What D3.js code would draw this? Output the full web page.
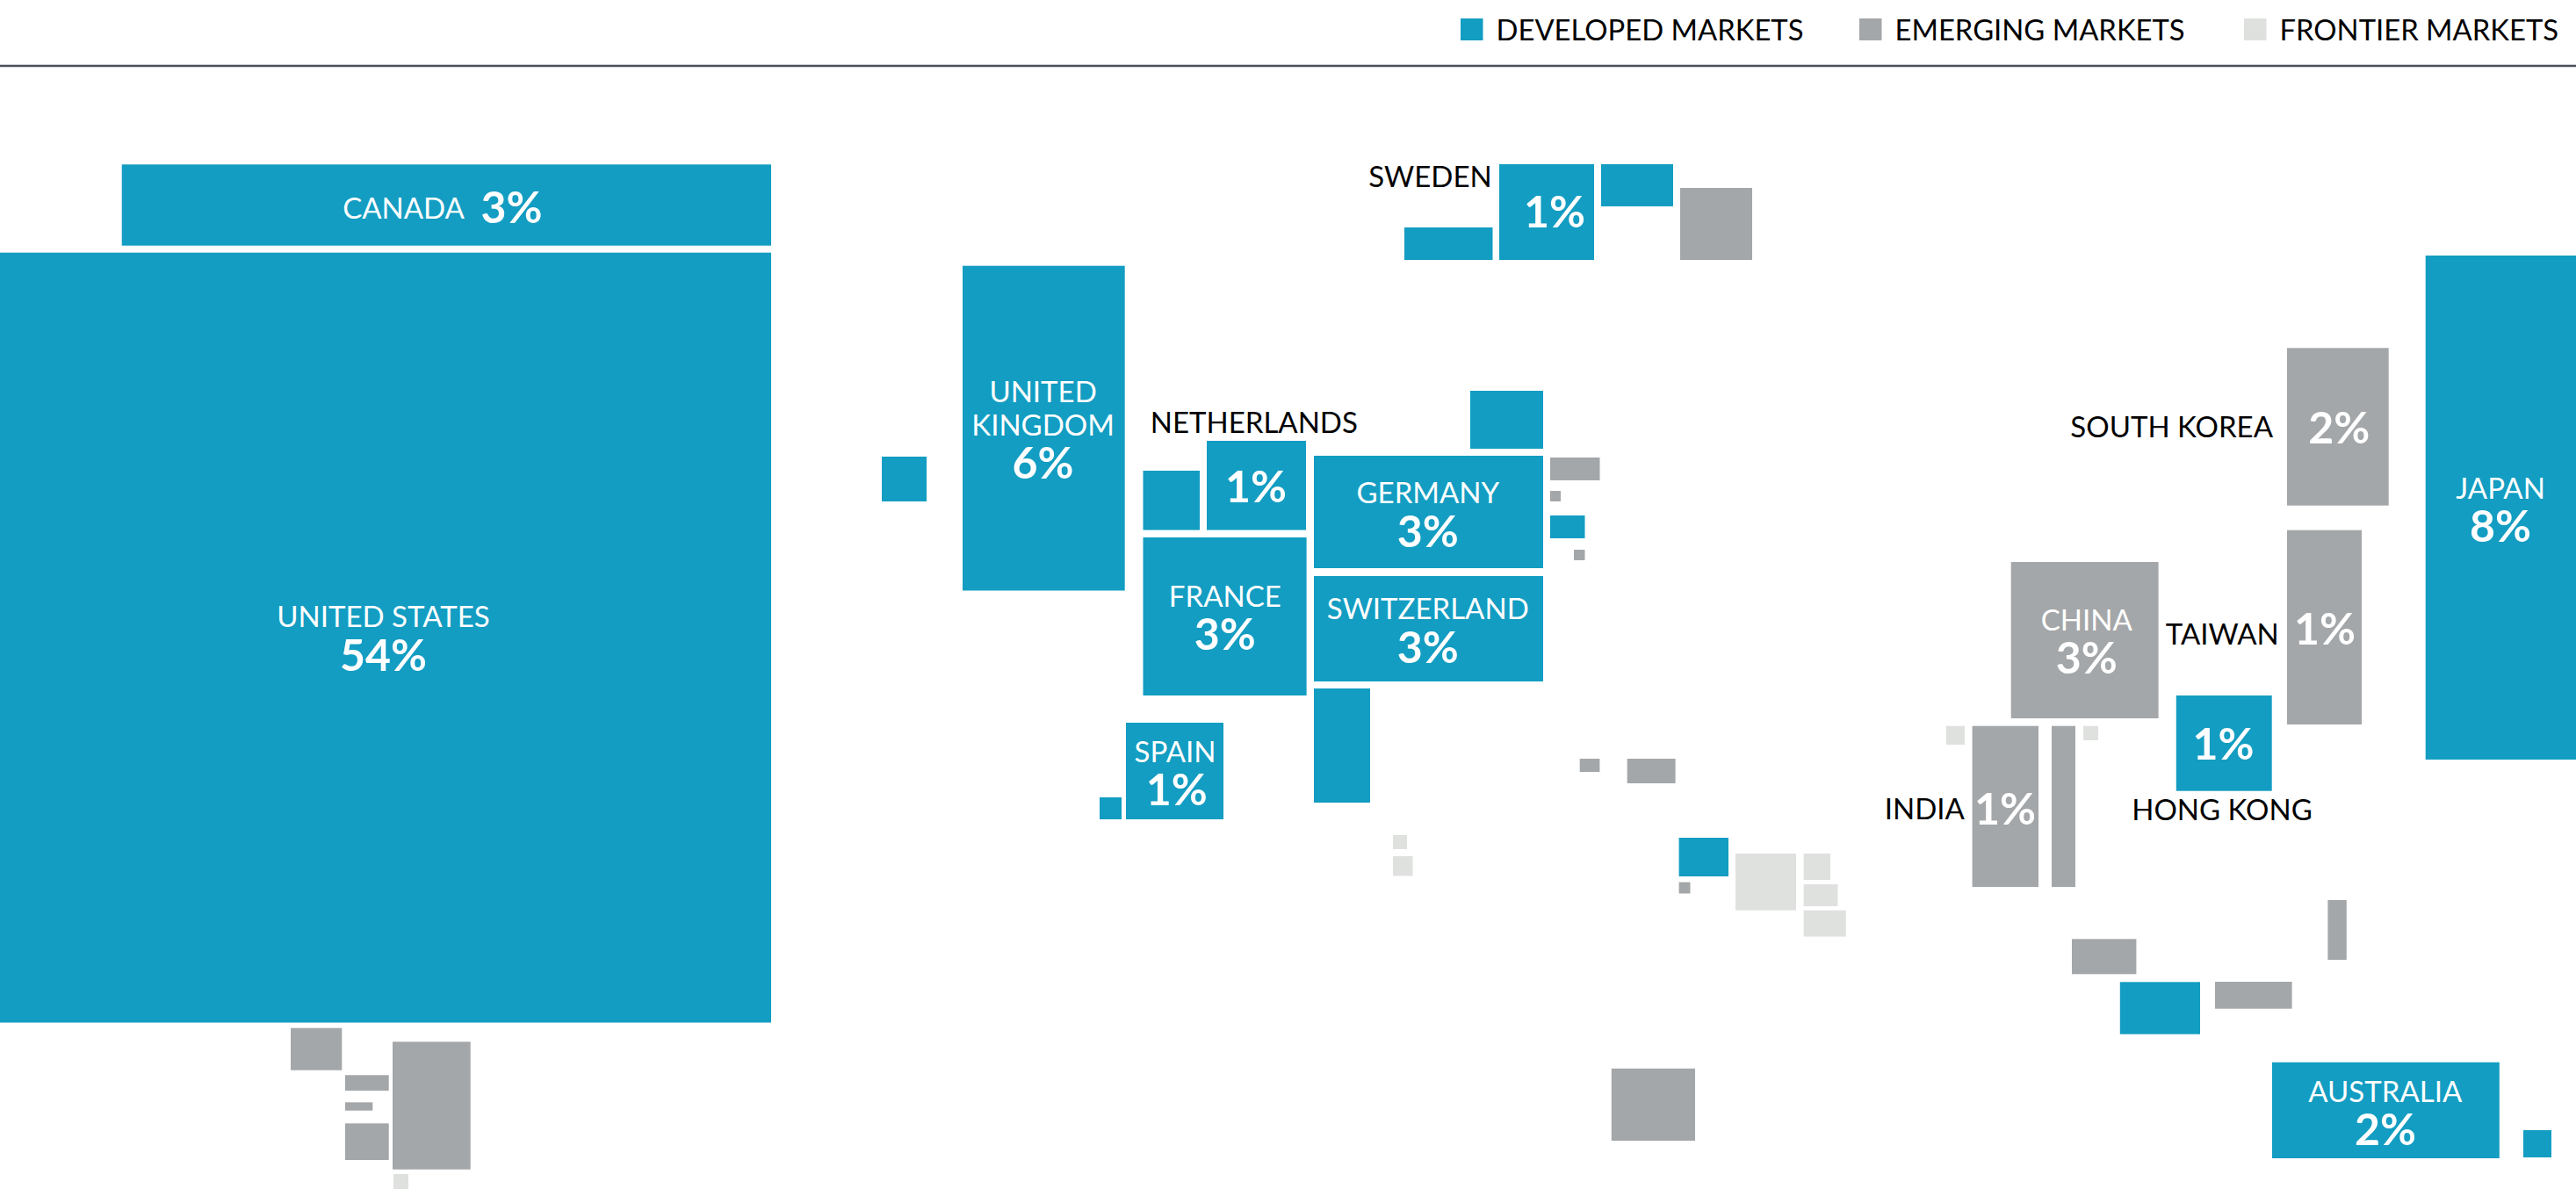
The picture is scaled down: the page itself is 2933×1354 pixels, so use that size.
<!DOCTYPE html>
<html>
<head>
<meta charset="utf-8">
<script src="https://cdn.jsdelivr.net/npm/d3@7"></script>
<style>
  html, body { margin: 0; padding: 0; background: #fff; overflow: hidden; }
  svg { display: block; }
  text { font-family: Lato, sans-serif; }
  .name { font-size: 33px; font-weight: 400; }
  .weight { font-size: 50px; font-weight: 700; fill: #fff; }
  .legend-label { font-size: 32.8px; fill: #000; }
</style>
</head>
<body>
<div id="chart"></div>
<script>
// market categories
const markets = ['DEVELOPED MARKETS', 'EMERGING MARKETS', 'FRONTIER MARKETS'];
const marketColors = ['#139dc2', '#a4a7a9', '#dfe1df'];

// cartogram tiles, same order in every list. D = developed, E = emerging, F = frontier
// the picture only names some of them, the rest stay null
const tileNames = ['United States', 'Canada', 'Sweden', null, null, null, null,
  'United Kingdom', null, 'Netherlands', null, 'Germany', 'France', 'Switzerland', null,
  'Spain', null, null, null, null, null, null, null,
  null, null, null, null, null, null, null, null,
  'China', 'South Korea', 'Taiwan', 'Hong Kong', 'Japan', 'India', null, null, null,
  null, null, null, null, 'Australia', null,
  null, null, null, null, null, null, null];
const tileMarkets = ['D', 'D', 'D', 'D', 'D', 'D', 'E',
  'D', 'D', 'D', 'D', 'D', 'D', 'D', 'D',
  'D', 'D', 'D', 'E', 'E', 'E', 'E', 'E',
  'F', 'F', 'D', 'E', 'F', 'F', 'F', 'F',
  'E', 'E', 'E', 'D', 'D', 'E', 'E', 'F', 'F',
  'E', 'E', 'E', 'D', 'D', 'D',
  'E', 'E', 'E', 'E', 'E', 'E', 'F'];
// tile edges, in map units
const tileLeft = [0, 138.7, 1707, 1823, 1599, 1674, 1913,
  1096, 1004, 1374, 1301.5, 1496, 1301.5, 1496, 1496,
  1282, 1252, 1765, 1765, 1792, 1798.7, 1852.7, 1765,
  1586, 1586, 1911.6, 1911.6, 1976, 2053.6, 2053.6, 2053.6,
  2289.7, 2604, 2604, 2477.8, 2761.7, 2245.6, 2336, 2215.8, 2372,
  2359, 2650.4, 2522, 2413.8, 2587, 2873,
  1834.8, 331, 393, 393, 393, 447, 448];
const tileRight = [878, 878, 1815, 1905, 1699.5, 1757, 1995,
  1280.7, 1055, 1487, 1366, 1757, 1487.6, 1757, 1560,
  1393, 1277, 1804.5, 1777, 1804.5, 1821.4, 1907.6, 1821.5,
  1602, 1608.5, 1968, 1924.5, 2045, 2084, 2092.4, 2101.8,
  2457.6, 2719.7, 2689, 2586.7, 2933, 2321, 2363, 2237, 2389,
  2432.4, 2671.8, 2609.6, 2505, 2845.8, 2905,
  1930, 389.3, 442.7, 424.3, 442.7, 535.7, 465];
const tileTop = [287.7, 187.3, 187, 187, 259, 445, 214,
  302.7, 520, 502, 536, 519, 612, 656, 784,
  823, 908, 587, 559, 626, 864, 864, 521,
  951, 975, 954, 1004.6, 972, 972, 1007, 1036.6,
  640, 396.3, 603.7, 792, 291, 826.7, 826.7, 826.7, 826.7,
  1069.3, 1025, 1118, 1118.3, 1209.7, 1287,
  1216.8, 1170.7, 1224.3, 1255.3, 1279.3, 1186.3, 1337];
const tileBottom = [1164.5, 279.7, 296, 235, 296, 511, 296,
  672.5, 571, 603.6, 603.6, 647, 792, 776, 914,
  933, 933, 613, 571, 638, 879, 892, 547,
  967, 997.5, 998, 1017.5, 1036.6, 1002, 1032, 1066.6,
  818, 575.7, 825, 900.7, 865, 1010, 1010, 848, 843,
  1109.3, 1093, 1148.7, 1177.7, 1319, 1318,
  1299, 1218.7, 1242, 1264.7, 1321, 1331.7, 1354];

// country weights (percent of the index) that the chart prints
const weightNames = ['United States', 'Canada', 'Sweden', 'United Kingdom', 'Netherlands', 'Germany', 'France',
  'Switzerland', 'Spain', 'China', 'South Korea', 'Taiwan', 'Hong Kong', 'Japan', 'India', 'Australia'];
const weightValues = [54, 3, 1, 6, 1, 3, 3, 3, 1, 3, 2, 1, 1, 8, 1, 2];

const width = 2933, height = 1354;
const svg = d3.select('#chart').append('svg').attr('width', width).attr('height', height);

const x = d3.scaleLinear().domain([0, 2933]).range([0, width]);
const y = d3.scaleLinear().domain([0, 1354]).range([0, height]);
const color = d3.scaleOrdinal().domain(['D', 'E', 'F']).range(marketColors);

const tiles = tileMarkets.map((market, i) => ({
  name: tileNames[i],
  market: market,
  x0: tileLeft[i],
  x1: tileRight[i],
  y0: tileTop[i],
  y1: tileBottom[i]
}));

svg.selectAll('.tile')
  .data(tiles)
  .enter()
  .append('rect')
  .attr('class', 'tile')
  .attr('x', (d) => x(d.x0))
  .attr('y', (d) => y(d.y0))
  .attr('width', (d) => x(d.x1) - x(d.x0))
  .attr('height', (d) => y(d.y1) - y(d.y0))
  .style('fill', (d) => color(d.market));

// header rule and legend
svg.append('line')
  .attr('x1', 0).attr('x2', width)
  .attr('y1', 75).attr('y2', 75)
  .style('stroke', '#4a4e5a')
  .style('stroke-width', 2.6);

const legendX = [1663, 2117, 2555];
const legend = svg.selectAll('.legend')
  .data(markets)
  .enter()
  .append('g')
  .attr('class', 'legend')
  .attr('transform', (d, i) => `translate(${legendX[i]}, 21)`);
legend.append('rect')
  .attr('width', 25.5)
  .attr('height', 25)
  .style('fill', (d, i) => marketColors[i]);
legend.append('text')
  .attr('class', 'legend-label')
  .attr('x', 40.5)
  .attr('y', 24.5)
  .text((d) => d);

// country labels: line(s) of the name, then where the weight sits
const nameLabels = [
  { t: 'UNITED STATES', x: 436.5, y: 714, c: '#fff' },
  { t: 'CANADA', x: 459.5, y: 249, c: '#fff' },
  { t: 'UNITED', x: 1187.6, y: 457.5, c: '#fff' },
  { t: 'KINGDOM', x: 1187.6, y: 495.5, c: '#fff' },
  { t: 'GERMANY', x: 1625.8, y: 572.5, c: '#fff' },
  { t: 'FRANCE', x: 1394.8, y: 690.5, c: '#fff' },
  { t: 'SWITZERLAND', x: 1625.8, y: 705, c: '#fff' },
  { t: 'SPAIN', x: 1338, y: 868, c: '#fff' },
  { t: 'CHINA', x: 2375.8, y: 717.5, c: '#fff' },
  { t: 'JAPAN', x: 2847, y: 568, c: '#fff' },
  { t: 'AUSTRALIA', x: 2715.8, y: 1254.5, c: '#fff' },
  { t: 'SWEDEN', x: 1628.5, y: 213, c: '#000' },
  { t: 'NETHERLANDS', x: 1427.8, y: 492.5, c: '#000' },
  { t: 'SOUTH KOREA', x: 2472.7, y: 498, c: '#000' },
  { t: 'TAIWAN', x: 2530.3, y: 733.5, c: '#000' },
  { t: 'HONG KONG', x: 2530, y: 934, c: '#000' },
  { t: 'INDIA', x: 2191.4, y: 932.5, c: '#000' }
];
svg.selectAll('.name')
  .data(nameLabels)
  .enter()
  .append('text')
  .attr('class', 'name')
  .attr('text-anchor', 'middle')
  .attr('x', (d) => x(d.x))
  .attr('y', (d) => y(d.y))
  .style('fill', (d) => d.c)
  .text((d) => d.t);

const weightPlaces = [[436.5, 764.3], [582.5, 254], [1770, 259], [1187.6, 545], [1430, 571.8], [1625.8, 622.5],
  [1394.8, 740.4], [1625.8, 754.6], [1339.7, 917], [2375.8, 767], [2663.3, 505.3], [2647, 734],
  [2531.5, 865], [2847, 617], [2283, 939], [2716, 1304]];
svg.selectAll('.weight')
  .data(weightValues)
  .enter()
  .append('text')
  .attr('class', 'weight')
  .attr('data-country', (d, i) => weightNames[i])
  .attr('text-anchor', 'middle')
  .attr('x', (d, i) => x(weightPlaces[i][0]))
  .attr('y', (d, i) => y(weightPlaces[i][1]))
  .text((d) => `${d}%`);
</script>
</body>
</html>
